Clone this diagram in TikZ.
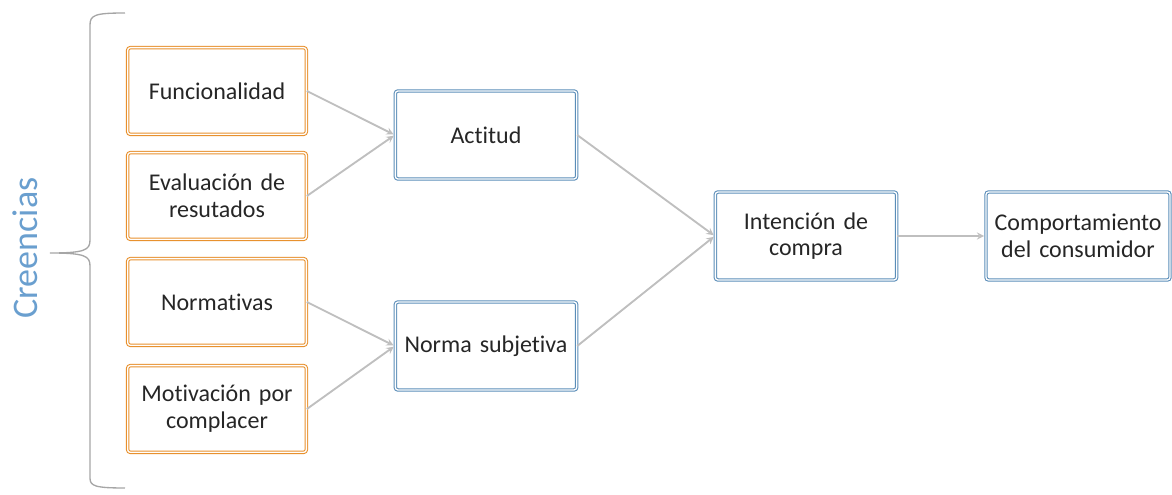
\documentclass[tikz,border=0pt]{standalone}
\usepackage{fontspec}
\setmainfont{Carlito}[Ligatures=NoCommon]
\usetikzlibrary{arrows,positioning}
\definecolor{beliefline}{HTML}{E8912E}
\definecolor{constructline}{HTML}{5B8DB8}
\definecolor{linkgray}{HTML}{BFBFBF}
\definecolor{bracegray}{HTML}{A6A6A6}
\definecolor{titleblue}{HTML}{6A9FCF}
\definecolor{labeltext}{HTML}{262626}

\begin{document}
\begin{tikzpicture}
        [x=0.75pt,y=-0.75pt,
         belief/.style={draw=beliefline, double=white, double distance=1pt, line width=0.8pt,
           rounded corners=2pt, minimum width=134pt, minimum height=65pt,
           text width=125pt, align=center, text=labeltext,
           font=\fontsize{18}{20}\selectfont},
         construct/.style={belief, draw=constructline, minimum width=136pt, minimum height=66pt},
         link/.style={->,>=stealth,draw=linkgray,line width=1.4pt,shorten >=1pt}]
        %\draw[help lines] (0,0) grid (1172,495);
        \useasboundingbox (0,0) rectangle (1172,495);
        \node[belief] (func) at (217,91) {Funcionalidad};
        \node[belief] (eval) at (217,196) {Evaluación de\\resutados};
        \node[belief] (norm) at (217,302) {Normativas};
        \node[belief] (motiv) at (217,409) {Motivación por\\complacer};
        \node[construct] (actitud) at (486,135) {Actitud};
        \node[construct] (subj) at (486,346) {Norma subjetiva};
        \node[construct] (intencion) at (806,236) {Intención de\\compra};
        \node[construct, minimum width=138pt] (comport) at (1078,236) {Comportamiento\\del consumidor};
        \node[rotate=90, text=titleblue, font=\fontsize{27}{30}\selectfont] (creencias) at (25,248) {Creencias};
        \draw[bracegray, line width=1pt] (125,13) .. controls (95,13) and (90,15) .. (90,25) -- (90,240)
          .. controls (90,250) and (85,253) .. (50,253)
          .. controls (85,253) and (90,256) .. (90,266) -- (90,478)
          .. controls (90,486) and (95,488) .. (125,488);
        \draw[link] (func.east) -- (actitud.west);
        \draw[link] (eval.east) -- (actitud.west);
        \draw[link] (norm.east) -- (subj.west);
        \draw[link] (motiv.east) -- (subj.west);
        \draw[link] (actitud.east) -- (intencion.west);
        \draw[link] (subj.east) -- (intencion.west);
        \draw[link] (intencion.east) -- (comport.west);
      \end{tikzpicture}
\end{document}
